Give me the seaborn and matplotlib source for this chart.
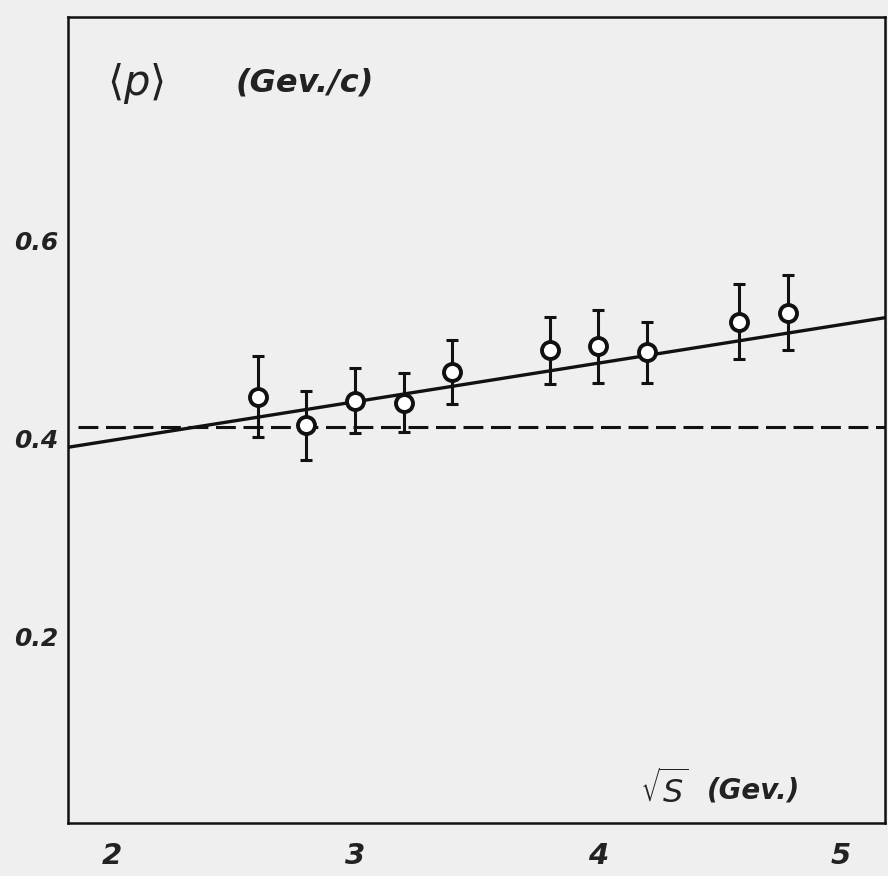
import numpy as np
import pandas as pd
import matplotlib
matplotlib.use("Agg")
import matplotlib.pyplot as plt
import seaborn as sns

# measured points <p> vs sqrt(s)
sqrt_s = [2.6, 2.8, 3.0, 3.2, 3.4, 3.8, 4.0, 4.2, 4.58, 4.78]
mean_p = [0.442, 0.413, 0.438, 0.436, 0.467, 0.489, 0.493, 0.487, 0.518, 0.527]
p_err = [0.041, 0.035, 0.033, 0.030, 0.032, 0.034, 0.037, 0.031, 0.038, 0.038]

# solid curve
curve_x = [1.82, 2.0, 3.0, 4.0, 5.0, 5.18]
curve_y = [0.391, 0.398, 0.437, 0.476, 0.515, 0.522]

# dashed level
flat_x = [1.86, 5.18]
flat_y = [0.411, 0.411]

x_ticks = [2, 3, 4, 5]
y_ticks = [0.1, 0.2, 0.3, 0.4, 0.5, 0.6]
y_labels = ["", "0.2", "", "0.4", "", "0.6"]

sns.set_style("white")
plt.rcParams["font.family"] = ["DejaVu Sans"]

paper = "#efefef"
fig = plt.figure(figsize=(8.88, 8.76), dpi=100, facecolor=paper)
ax = fig.add_axes([0.0766, 0.0605, 0.92, 0.92])
ax.set_facecolor(paper)

pts = pd.DataFrame({"s": sqrt_s, "p": mean_p})
sns.lineplot(x=curve_x, y=curve_y, ax=ax, color="#111111", lw=2.4)
sns.lineplot(x=flat_x, y=flat_y, ax=ax, color="#111111", lw=2.2,
             linestyle=(0, (6.5, 2.5)))
ax.errorbar(sqrt_s, mean_p, yerr=p_err, fmt="none", ecolor="#111111",
            elinewidth=2.2, capsize=4.5, capthick=2.2, zorder=3)
sns.scatterplot(data=pts, x="s", y="p", ax=ax, marker="o", s=150,
                facecolor="white", edgecolor="#111111", linewidth=2.8,
                zorder=4)

ax.set_xlim(1.819, 5.18)
ax.set_ylim(0.011, 0.826)
ax.set_xticks(x_ticks)
ax.set_xticklabels([str(t) for t in x_ticks], fontsize=21,
                   fontstyle="italic", fontweight="bold")
ax.set_yticks(y_ticks)
ax.set_yticklabels(y_labels, fontsize=18, fontstyle="italic",
                   fontweight="bold")
ax.tick_params(axis="x", direction="in", length=7, width=1.6,
               colors="#111111", pad=14)
ax.tick_params(axis="y", direction="in", length=7, width=1.6,
               colors="#111111", pad=7)
for lab in ax.get_xticklabels() + ax.get_yticklabels():
    lab.set_color("#222222")
ax.set_xlabel("")
ax.set_ylabel("")

for sp in ax.spines.values():
    sp.set_visible(True)
    sp.set_color("#111111")
    sp.set_linewidth(1.8)

ax.text(0.048, 0.918, r"$\langle p \rangle$", transform=ax.transAxes,
        fontsize=30, color="#222222", va="center")
ax.text(0.205, 0.918, "(Gev./c)", transform=ax.transAxes, fontsize=23,
        fontstyle="italic", fontweight="bold", color="#222222", va="center")
ax.text(0.70, 0.04, r"$\sqrt{S}$", transform=ax.transAxes, fontsize=23,
        color="#222222", va="center")
ax.text(0.782, 0.04, "(Gev.)", transform=ax.transAxes, fontsize=20,
        fontstyle="italic", fontweight="bold", color="#222222", va="center")

fig.savefig("out.png", dpi=100, facecolor=paper)
